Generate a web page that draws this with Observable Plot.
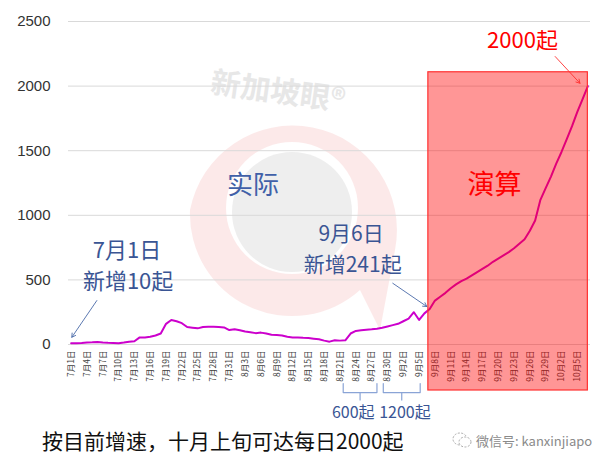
<!DOCTYPE html>
<html>
<head>
<meta charset="utf-8">
<script src="https://cdn.jsdelivr.net/npm/d3@7"></script>
<script src="https://cdn.jsdelivr.net/npm/@observablehq/plot@0.6"></script>
<style>
  body { margin: 0; background: #fff; width: 601px; height: 460px; overflow: hidden; }
  #wrap { position: relative; width: 601px; }
  #caption { position: relative; height: 35px; line-height: 30px; font-family: 'Noto Sans CJK SC', sans-serif; }
  #caption .main { position: absolute; left: 42px; top: 0; font-size: 21px; color: #111; }
  #caption .wx { position: absolute; left: 476px; top: 1px; font-size: 13px; color: #8a8a8a; }
  #caption .icon { position: absolute; left: 452px; top: 6px; }
</style>
</head>
<body>
<div id="wrap"></div>
<div id="caption"><svg class="icon" width="20" height="18"><ellipse cx="8" cy="8" rx="7" ry="6" fill="none" stroke="#aaa" stroke-dasharray="2 1.5"/><ellipse cx="13" cy="11" rx="6" ry="5" fill="#fff" stroke="#aaa" stroke-dasharray="2 1.5"/></svg><span class="main">按目前增速，十月上旬可达每日2000起</span><span class="wx">微信号: kanxinjiapo</span></div>
<script>
// ---- data ----
const tickLabels = ["7月1日","7月4日","7月7日","7月10日","7月13日","7月16日","7月19日","7月22日","7月25日","7月28日","7月31日","8月3日","8月6日","8月9日","8月12日","8月15日","8月18日","8月21日","8月24日","8月27日","8月30日","9月2日","9月5日","9月8日","9月11日","9月14日","9月17日","9月20日","9月23日","9月26日","9月29日","10月2日","10月5日"];
// daily cases 7月1日 … 9月6日 (actual)
const actual = [10,10,12,15,17,20,15,13,12,10,15,22,25,55,55,60,70,85,160,190,180,165,135,130,125,135,138,137,135,132,112,118,110,100,95,88,92,85,75,73,70,60,55,55,52,50,45,40,30,22,33,30,32,85,105,110,115,118,122,130,140,150,160,180,200,250,190,241];
// projection 9月7日 … 10月7日
const projected = [275,340,370,400,435,465,490,510,535,560,585,610,640,665,690,715,745,780,815,880,960,1120,1210,1300,1400,1490,1590,1690,1800,1900,2000];
const yTicks = [0,500,1000,1500,2000,2500];

const series = actual.concat(projected).map((v, i) => ({day: i, value: v}));
const tickDays = tickLabels.map((_, i) => i * 3);
const labelOf = new Map(tickDays.map((d, i) => [d, tickLabels[i]]));

const blue = "#3a5594";
const cjk = "'Noto Sans CJK SC', sans-serif";
const one = [0];
const c = v => () => v;

const chart = Plot.plot({
  width: 601,
  height: 425,
  marginLeft: 68,
  marginRight: 11,
  marginTop: 21,
  marginBottom: 81,
  x: {domain: [-0.5, 98.5], axis: null},
  y: {domain: [0, 2500], axis: null},
  style: {fontFamily: cjk, background: "transparent", overflow: "visible"},
  marks: [
    Plot.gridY({ticks: yTicks, stroke: "#d9d9d9", strokeOpacity: 1, strokeWidth: 1}),
    Plot.axisY({ticks: yTicks, tickFormat: d => String(d), tickSize: 0, tickPadding: 18, fontSize: 15, fontFamily: "'Liberation Sans', sans-serif", color: "#333", label: null}),
    Plot.axisX({ticks: tickDays, tickFormat: d => labelOf.get(d), tickRotate: -90, tickSize: 0, tickPadding: 6, fontSize: 8.5, color: "#404040", label: null}),
    Plot.line(series, {x: "day", y: "value", stroke: "#cc00cc", strokeWidth: 2}),
    Plot.rect(one, {x1: c(67.75), x2: c(98), y1: c(-356), y2: c(2107), fill: "#ff0000", fillOpacity: 0.41, stroke: "#ff3030", strokeWidth: 1.2}),
    // annotations
    Plot.text(one, {x: c(10.6), y: c(722), text: c("7月1日"), fontSize: 22, fill: blue}),
    Plot.text(one, {x: c(10.8), y: c(484), text: c("新增10起"), fontSize: 22, fill: blue}),
    Plot.arrow(one, {x1: c(4.87), y1: c(340), x2: c(0.13), y2: c(56), stroke: "#4a6aa8", strokeWidth: 0.9, headLength: 7}),
    Plot.text(one, {x: c(34.5), y: c(1230), text: c("实际"), fontSize: 26, fill: "#4060a8"}),
    Plot.text(one, {x: c(53.1), y: c(856), text: c("9月6日"), fontSize: 21, fill: blue}),
    Plot.text(one, {x: c(53.4), y: c(615), text: c("新增241起"), fontSize: 21, fill: blue}),
    Plot.arrow(one, {x1: c(61), y1: c(474), x2: c(67.45), y2: c(294), stroke: "#4a6aa8", strokeWidth: 0.9, headLength: 7}),
    Plot.text(one, {x: c(80.3), y: c(1230), text: c("演算"), fontSize: 27, fill: "#ff0000"}),
    Plot.text(one, {x: c(85.6), y: c(2353), text: c("2000起"), fontSize: 22, fill: "#ff0000"}),
    Plot.arrow(one, {x1: c(91.8), y1: c(2229), x2: c(96.5), y2: c(2022), stroke: "#ff3030", strokeWidth: 0.9, headLength: 7}),
    // brackets under the axis
    Plot.line([[51.6,-302],[51.6,-372],[58,-372],[58,-302]], {x: "0", y: "1", stroke: "#8aa4d6", strokeWidth: 1.2}),
    Plot.link(one, {x1: c(54.8), y1: c(-372), x2: c(54.8), y2: c(-433), stroke: "#8aa4d6", strokeWidth: 1.2}),
    Plot.line([[59.2,-302],[59.2,-372],[66.2,-372],[66.2,-302]], {x: "0", y: "1", stroke: "#8aa4d6", strokeWidth: 1.2}),
    Plot.link(one, {x1: c(62.7), y1: c(-372), x2: c(62.7), y2: c(-433), stroke: "#8aa4d6", strokeWidth: 1.2}),
    Plot.text(one, {x: c(53.5), y: c(-526), text: c("600起"), fontSize: 16, fill: blue}),
    Plot.text(one, {x: c(63.3), y: c(-526), text: c("1200起"), fontSize: 16, fill: blue})
  ]
});

// faint watermark (decoration, behind everything)
const svg = d3.select(chart);
const wm = svg.insert("g", ":first-child").attr("opacity", 0.6);
wm.append("path")
  .attr("d", "M 380 330 L 395 250 A 102 102 0 1 0 190 210 A 102 102 0 0 0 360 290 Z")
  .attr("fill", "#fbdcdc");
wm.append("circle").attr("cx", 292).attr("cy", 208).attr("r", 66).attr("fill", "#ffffff");
wm.append("circle").attr("cx", 292).attr("cy", 212).attr("r", 60).attr("fill", "#e4e4e4");
wm.append("text").attr("x", 278).attr("y", 102).attr("text-anchor", "middle")
  .attr("transform", "rotate(8 278 92)")
  .attr("font-family", cjk).attr("font-weight", "bold").attr("font-size", 30)
  .attr("fill", "#d8d8d8").text("新加坡眼®");

document.getElementById("wrap").appendChild(chart);
</script>
</body>
</html>
